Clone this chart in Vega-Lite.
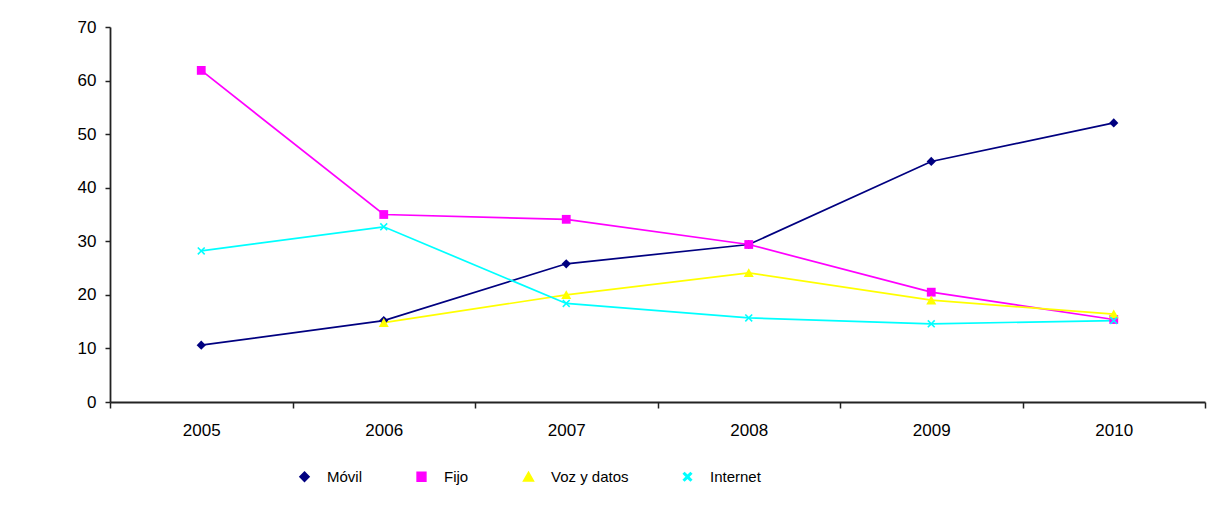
{
  "$schema": "https://vega.github.io/schema/vega-lite/v6.json",
  "autosize": "none",
  "width": 1095,
  "height": 375,
  "padding": {"left": 110, "top": 27, "right": 25, "bottom": 110},
  "background": "white",
  "config": {
    "view": {"stroke": null},
    "font": "Liberation Sans",
    "axis": {"labelFont": "Liberation Sans", "labelColor": "#000", "domainColor": "#222", "tickColor": "#222", "domainWidth": 1.8, "tickWidth": 1.5, "grid": false, "title": null}
  },
  "data": {
    "values": [
      {"year": "2005", "series": "Móvil", "value": 10.6},
      {"year": "2006", "series": "Móvil", "value": 15.2},
      {"year": "2007", "series": "Móvil", "value": 25.8},
      {"year": "2008", "series": "Móvil", "value": 29.4},
      {"year": "2009", "series": "Móvil", "value": 44.9},
      {"year": "2010", "series": "Móvil", "value": 52.1},
      {"year": "2005", "series": "Fijo", "value": 61.9},
      {"year": "2006", "series": "Fijo", "value": 35.0},
      {"year": "2007", "series": "Fijo", "value": 34.1},
      {"year": "2008", "series": "Fijo", "value": 29.4},
      {"year": "2009", "series": "Fijo", "value": 20.5},
      {"year": "2010", "series": "Fijo", "value": 15.4},
      {"year": "2006", "series": "Voz y datos", "value": 14.8},
      {"year": "2007", "series": "Voz y datos", "value": 20.0},
      {"year": "2008", "series": "Voz y datos", "value": 24.1},
      {"year": "2009", "series": "Voz y datos", "value": 19.0},
      {"year": "2010", "series": "Voz y datos", "value": 16.4},
      {"year": "2005", "series": "Internet", "value": 28.2},
      {"year": "2006", "series": "Internet", "value": 32.7},
      {"year": "2007", "series": "Internet", "value": 18.4},
      {"year": "2008", "series": "Internet", "value": 15.7},
      {"year": "2009", "series": "Internet", "value": 14.6},
      {"year": "2010", "series": "Internet", "value": 15.2}
    ]
  },
  "encoding": {
    "x": {
      "field": "year", "type": "ordinal",
      "scale": {"type": "band", "paddingInner": 0, "paddingOuter": 0},
      "axis": {"labelAngle": 0, "tickBand": "extent", "tickSize": 6, "labelPadding": 14, "labelFontSize": 17, "labelBaseline": "top"}
    },
    "y": {
      "field": "value", "type": "quantitative",
      "scale": {"domain": [0, 70], "nice": false, "zero": true},
      "axis": {"values": [0, 10, 20, 30, 40, 50, 60, 70], "tickSize": 5, "labelPadding": 9, "labelFontSize": 17}
    },
    "color": {
      "field": "series", "type": "nominal",
      "scale": {"domain": ["Móvil", "Fijo", "Voz y datos", "Internet"], "range": ["#000080", "#FF00FF", "#FFFF00", "#00FFFF"]},
      "legend": {
        "title": null,
        "orient": "none",
        "direction": "horizontal",
        "legendX": 187,
        "legendY": 442,
        "padding": 0,
        "columnPadding": 51,
        "labelOffset": 15,
        "labelFontSize": 15,
        "labelFont": "Liberation Sans",
        "labelColor": "#000",
        "symbolSize": 64,
        "symbolStrokeWidth": 1.5,
        "encode": {
          "symbols": {
            "update": {
              "shape": {"signal": "datum.value === 'Móvil' ? 'M-4,0H4M0,-0.9L0.9,0L0,0.9L-0.9,0Z' : datum.value === 'Fijo' ? 'M-4,0H4M-0.75,-0.75H0.75V0.75H-0.75Z' : datum.value === 'Voz y datos' ? 'M-4,0H4M0,-1L1,0.9L-1,0.9Z' : 'M-4,0H4M-0.7,-0.7L0.7,0.7M-0.7,0.7L0.7,-0.7'"},
              "fill": {"scale": "color", "field": "value"},
              "stroke": {"scale": "color", "field": "value"},
              "strokeWidth": {"value": 1.5},
              "opacity": {"value": 1}
            }
          }
        }
      }
    }
  },
  "layer": [
    {
      "mark": {"type": "line", "strokeWidth": 1.7}
    },
    {
      "mark": {"type": "point", "filled": true, "opacity": 1, "size": 64, "strokeWidth": 0},
      "encoding": {
        "shape": {
          "field": "series", "type": "nominal",
          "scale": {"domain": ["Móvil", "Fijo", "Voz y datos", "Internet"], "range": ["M0,-1.15L1.15,0L0,1.15L-1.15,0Z", "M-1.1,-1.1H1.1V1.1H-1.1Z", "M0,-1.15L1.25,1.05L-1.25,1.05Z", "M-1,-0.72L-0.72,-1L0,-0.28L0.72,-1L1,-0.72L0.28,0L1,0.72L0.72,1L0,0.28L-0.72,1L-1,0.72L-0.28,0Z"]},
          "legend": null
        }
      }
    }
  ]
}
